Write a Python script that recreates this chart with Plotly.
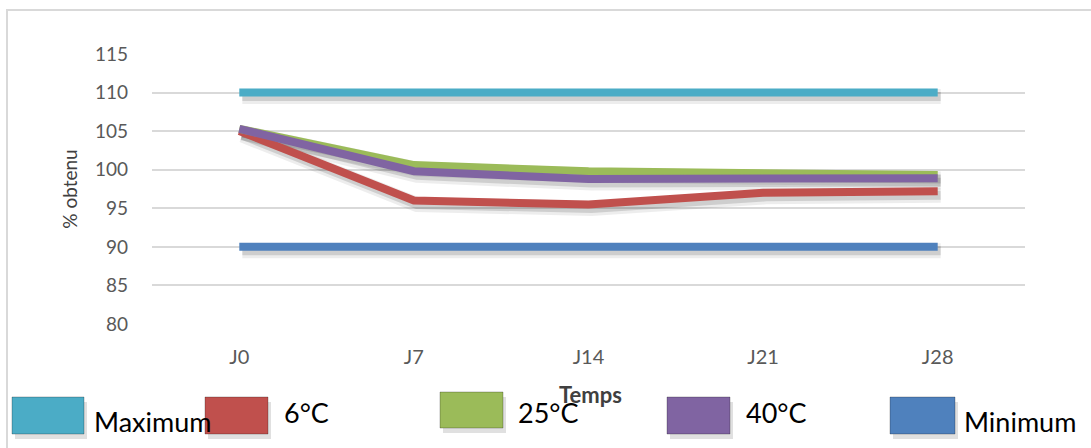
import plotly.graph_objects as go

# Stability data: % obtained over time at three storage temperatures
days = ["J0", "J7", "J14", "J21", "J28"]
maximum = [110, 110, 110, 110, 110]
t6 = [105.0, 96.0, 95.5, 97.0, 97.2]
t25 = [105.3, 100.6, 99.8, 99.6, 99.3]
t40 = [105.3, 99.8, 98.8, 98.9, 98.9]
minimum = [90, 90, 90, 90, 90]

names = ["Maximum", "6°C", "25°C", "40°C", "Minimum"]
series = [maximum, t6, t25, t40, minimum]
colors = ["#4BACC6", "#C0504D", "#9BBB59", "#8064A2", "#4F81BD"]
draw_order = [0, 4, 1, 2, 3]

W, H = 1091, 448
L, R, T, B = 152, 66, 54, 124
YMIN, YMAX = 80, 115

fig = go.Figure()

px_per_unit = (H - T - B) / (YMAX - YMIN)
px_per_cat = (W - L - R) / 5
dy = 4 / px_per_unit
dx = 3 / px_per_cat

# soft drop shadows on the base axis pair (range shifted a few pixels)
for i in draw_order:
    fig.add_trace(go.Scatter(
        x=days, y=series[i], mode="lines", xaxis="x", yaxis="y",
        line=dict(color="rgba(0,0,0,0.07)", width=15),
        hoverinfo="skip", showlegend=False))
    fig.add_trace(go.Scatter(
        x=days, y=series[i], mode="lines", xaxis="x", yaxis="y",
        line=dict(color="rgba(0,0,0,0.13)", width=9),
        hoverinfo="skip", showlegend=False))

# coloured series on the overlay axis pair carrying the visible scale
for i in draw_order:
    fig.add_trace(go.Scatter(
        x=days, y=series[i], mode="lines", name=names[i],
        xaxis="x2", yaxis="y2",
        line=dict(color=colors[i], width=8), showlegend=False))


def px(xp):
    return (xp - L) / (W - L - R)


def py(yp):
    return (H - B - yp) / (H - T - B)


shapes = [
    # outer frame
    dict(type="rect", xref="paper", yref="paper",
         x0=px(7), x1=px(1095), y0=py(470), y1=py(10),
         line=dict(color="#D9D9D9", width=2), fillcolor="rgba(0,0,0,0)",
         layer="below"),
]
annotations = []

# legend: boxes and labels
legend_items = [
    (12, 84, 397, 434, 92, 421),
    (205, 268, 397, 434, 282, 412),
    (440, 503, 392, 428, 516, 413),
    (667, 730, 397, 434, 744, 412),
    (890, 955, 397, 434, 962, 421),
]
for (bx0, bx1, by0, by1, tx, ty), name, col in zip(legend_items, names, colors):
    shapes.append(dict(type="rect", xref="paper", yref="paper",
                       x0=px(bx0 + 3), x1=px(bx1 + 3), y0=py(by1 + 5), y1=py(by0 + 5),
                       line=dict(width=0), fillcolor="rgba(0,0,0,0.12)"))
    shapes.append(dict(type="rect", xref="paper", yref="paper",
                       x0=px(bx0), x1=px(bx1), y0=py(by1), y1=py(by0),
                       line=dict(color="rgba(0,0,0,0.25)", width=1), fillcolor=col))
    annotations.append(dict(xref="paper", yref="paper", x=px(tx), y=py(ty),
                            text=name, showarrow=False, xanchor="left", yanchor="middle",
                            font=dict(family="Liberation Sans Narrow, Lato, sans-serif",
                                      size=27, color="#000000")))

annotations.append(dict(xref="paper", yref="paper", x=px(590), y=py(394),
                        text="<b>Temps</b>", showarrow=False, xanchor="center",
                        yanchor="middle",
                        font=dict(family="Liberation Sans Narrow, Lato, sans-serif",
                                  size=22, color="#404040")))

fig.update_layout(
    width=W, height=H,
    margin=dict(l=L, r=R, t=T, b=B),
    paper_bgcolor="white", plot_bgcolor="white",
    showlegend=False,
    shapes=shapes, annotations=annotations,
    xaxis=dict(type="category", range=[-0.5 - dx, 4.5 - dx], visible=False),
    yaxis=dict(range=[YMIN + dy, YMAX + dy], visible=False),
    xaxis2=dict(type="category", range=[-0.5, 4.5], overlaying="x", side="bottom",
                showgrid=False, zeroline=False, showline=False, ticks="",
                ticklabelstandoff=19,
                tickfont=dict(family="Liberation Sans Narrow, Lato, sans-serif",
                              size=20, color="#595959")),
    yaxis2=dict(range=[YMIN, YMAX], dtick=5, tick0=80, overlaying="y", side="left",
                showgrid=True, gridcolor="#D9D9D9", gridwidth=2, zeroline=False,
                showline=False, ticks="", ticklabelstandoff=23,
                tickfont=dict(family="Lato, sans-serif", size=19, color="#595959"),
                title=dict(text="% obtenu", standoff=12,
                           font=dict(family="Lato, sans-serif", size=19, color="#404040"))),
)

fig.write_html("out.html")
